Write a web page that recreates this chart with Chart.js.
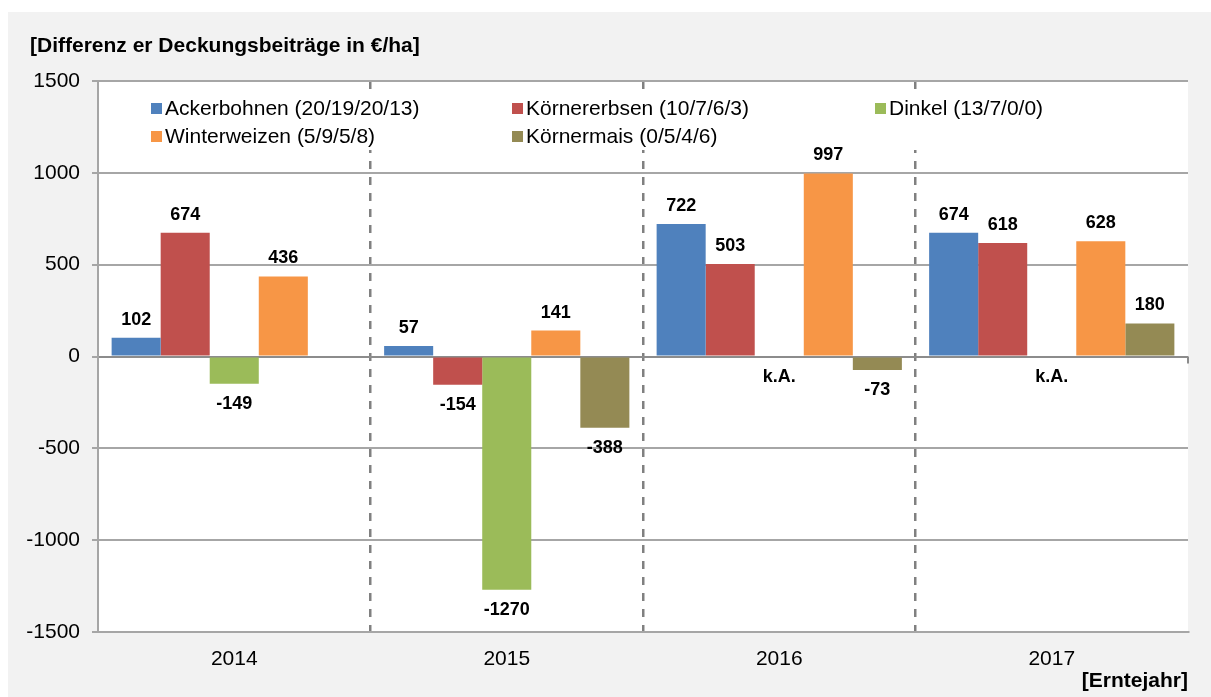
<!DOCTYPE html>
<html lang="de">
<head>
<meta charset="utf-8">
<title>Differenz der Deckungsbeiträge</title>
<script src="https://cdn.jsdelivr.net/npm/chart.js@4.4.1/dist/chart.umd.min.js"></script>
<style>
  html, body { margin: 0; padding: 0; background: #fff; }
  #wrap { width: 1211px; height: 697px; }
</style>
</head>
<body>
<div id="wrap"><canvas id="chart" width="1211" height="697"></canvas></div>
<script>
// --- DATA ---
const years = ["2014", "2015", "2016", "2017"];
const seriesNames = ["Ackerbohnen", "Körnererbsen", "Dinkel", "Winterweizen", "Körnermais"];
const sampleCounts = [[20, 19, 20, 13], [10, 7, 6, 3], [13, 7, 0, 0], [5, 9, 5, 8], [0, 5, 4, 6]];
const ackerbohnen = [102, 57, 722, 674];
const koernererbsen = [674, -154, 503, 618];
const dinkel = [-149, -1270, null, null];
const winterweizen = [436, 141, 997, 628];
const koernermais = [null, -388, -73, 180];
const dinkelNotes = [null, null, "k.A.", "k.A."];
const yTicks = [-1500, -1000, -500, 0, 500, 1000, 1500];

const chartTitle = "[Differenz er Deckungsbeiträge in €/ha]";
const xTitle = "[Erntejahr]";

// --- STYLE ---
const FONT = '"Liberation Sans", Arial, Helvetica, sans-serif';
const colors = ["#4F81BD", "#C0504D", "#9BBB59", "#F79646", "#948A54"];
const gridGray = "#a6a6a6";

const seriesValues = [ackerbohnen, koernererbsen, dinkel, winterweizen, koernermais];
const seriesNotes = [null, null, dinkelNotes, null, null];

const datasets = seriesNames.map((name, i) => ({
    label: name + " (" + sampleCounts[i].join("/") + ")",
    data: seriesValues[i],
    notes: seriesNotes[i],
    backgroundColor: colors[i],
    borderWidth: 0,
    categoryPercentage: 0.9,
    barPercentage: 1.0
}));

// gray panel, white plot area and title
const panelPlugin = {
    id: "panel",
    beforeDraw(chart) {
        const { ctx, chartArea: a } = chart;
        ctx.save();
        ctx.fillStyle = "#ffffff";
        ctx.fillRect(0, 0, chart.width, chart.height);
        ctx.fillStyle = "#f2f2f2";
        ctx.fillRect(8, 12, chart.width - 8, chart.height - 12);
        ctx.fillStyle = "#ffffff";
        ctx.fillRect(a.left, a.top, a.right - a.left, a.bottom - a.top);
        ctx.fillStyle = "#000";
        ctx.font = "bold 21px " + FONT;
        ctx.textAlign = "left";
        ctx.textBaseline = "middle";
        ctx.fillText(chartTitle, 30, 46);
        ctx.restore();
    }
};

// legend inside the plot, 3 columns on a white box (drawn over the grid, under the bars)
const legendPlugin = {
    id: "innerLegend",
    beforeDatasetsDraw(chart) {
        const { ctx } = chart;
        const colX = [151, 512, 875];
        const rowY = [108, 136];
        ctx.save();
        ctx.fillStyle = "#ffffff";
        ctx.fillRect(140, 92, 920, 58);
        ctx.font = "21px " + FONT;
        ctx.textAlign = "left";
        ctx.textBaseline = "middle";
        chart.data.datasets.forEach((ds, i) => {
            const x = colX[i % 3];
            const y = rowY[Math.floor(i / 3)];
            ctx.fillStyle = ds.backgroundColor;
            ctx.fillRect(x, y - 5, 11, 11);
            ctx.fillStyle = "#000";
            ctx.fillText(ds.label, x + 14, y + 1);
        });
        ctx.restore();
    }
};

// value labels + k.A. notes
const labelPlugin = {
    id: "valueLabels",
    afterDatasetsDraw(chart) {
        const { ctx } = chart;
        const zeroY = chart.scales.y.getPixelForValue(0);
        ctx.save();
        ctx.fillStyle = "#000";
        ctx.font = "bold 18px " + FONT;
        ctx.textAlign = "center";
        ctx.textBaseline = "middle";
        chart.data.datasets.forEach((ds, di) => {
            const meta = chart.getDatasetMeta(di);
            meta.data.forEach((bar, i) => {
                const v = ds.data[i];
                if (v === null || v === undefined) {
                    if (ds.notes && ds.notes[i]) ctx.fillText(ds.notes[i], bar.x, zeroY + 21);
                    return;
                }
                const y = v >= 0 ? bar.y - 18 : bar.y + 20;
                ctx.fillText(String(v), bar.x, y);
            });
        });
        // small tick at the right end of the zero line
        ctx.strokeStyle = "#8c8c8c";
        ctx.lineWidth = 2;
        ctx.beginPath();
        ctx.moveTo(chart.chartArea.right, zeroY);
        ctx.lineTo(chart.chartArea.right, zeroY + 7);
        ctx.stroke();
        ctx.restore();
    }
};

new Chart(document.getElementById("chart"), {
    type: "bar",
    data: { labels: years, datasets: datasets },
    options: {
        responsive: false,
        animation: false,
        devicePixelRatio: 1,
        layout: { padding: { left: 0, top: 81, right: 23, bottom: 0 } },
        plugins: {
            legend: { display: false },
            tooltip: { enabled: false }
        },
        scales: {
            x: {
                offset: true,
                afterFit: s => { s.height = 65; },
                grid: {
                    offset: true,
                    drawTicks: false,
                    lineWidth: 2.5,
                    // hide the outer edges, keep only the dashed separators between years
                    color: c => (c.type !== "tick" || c.index === 0) ? "rgba(0,0,0,0)" : "#808080"
                },
                border: { display: true, color: gridGray, width: 2, dash: [8, 8] },
                ticks: {
                    padding: 15,
                    color: "#000",
                    font: { family: FONT, size: 21 }
                },
                title: {
                    display: true,
                    text: xTitle,
                    align: "end",
                    color: "#000",
                    font: { family: FONT, size: 21, weight: "bold" },
                    padding: { top: 0, bottom: 3 }
                }
            },
            y: {
                min: yTicks[0],
                max: yTicks[yTicks.length - 1],
                afterFit: s => { s.width = 98; },
                afterBuildTicks: s => { s.ticks = yTicks.map(v => ({ value: v })); },
                grid: {
                    lineWidth: 2,
                    color: c => (c.tick && c.tick.value === 0) ? "#8c8c8c" : gridGray,
                    tickLength: 6,
                    tickColor: gridGray,
                    tickWidth: 2
                },
                border: { display: true, color: gridGray, width: 2 },
                ticks: {
                    padding: 12,
                    color: "#000",
                    font: { family: FONT, size: 21 },
                    callback: v => String(v)
                }
            }
        }
    },
    plugins: [panelPlugin, legendPlugin, labelPlugin]
});
</script>
</body>
</html>
